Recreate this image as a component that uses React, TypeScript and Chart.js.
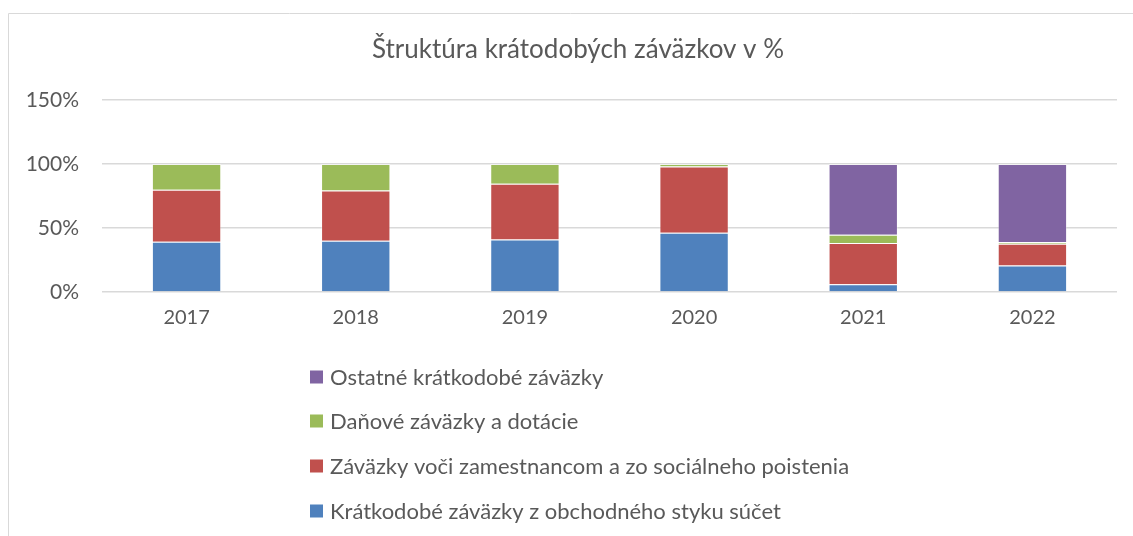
import React, { useEffect, useRef } from "react";
import { Chart, registerables } from "chart.js";

Chart.register(...registerables);

const TITLE = "Štruktúra krátodobých záväzkov v %";
const categories = ["2017", "2018", "2019", "2020", "2021", "2022"];
const tradePayables = [39.2, 40.0, 41.1, 46.3, 6.0, 20.7];
const employeePayables = [40.6, 39.3, 43.4, 51.8, 32.2, 17.0];
const taxPayables = [20.2, 20.7, 15.5, 1.9, 6.5, 1.3];
const otherPayables = [0, 0, 0, 0, 55.3, 61.0];
const seriesNames = [
  "Krátkodobé záväzky z obchodného styku súčet",
  "Záväzky voči zamestnancom a zo sociálneho poistenia",
  "Daňové záväzky a dotácie",
  "Ostatné krátkodobé záväzky",
];
const seriesColors = ["#4F81BD", "#C0504D", "#9BBB59", "#8064A2"];
const yTicks = [0, 50, 100, 150];

const FONT = "Lato, 'Open Sans', sans-serif";
const TEXT = "#595959";

const decorPlugin = {
  id: "decor",
  beforeDraw(chart: any) {
    const ctx = chart.ctx;
    ctx.save();
    ctx.strokeStyle = "#d9d9d9";
    ctx.lineWidth = 1;
    ctx.beginPath();
    ctx.moveTo(8.5, 536);
    ctx.lineTo(8.5, 13.5);
    ctx.lineTo(1133, 13.5);
    ctx.stroke();
    ctx.restore();
  },
  afterDraw(chart: any) {
    const ctx = chart.ctx;
    ctx.save();
    ctx.fillStyle = TEXT;
    ctx.font = `26px ${FONT}`;
    ctx.textAlign = "center";
    ctx.textBaseline = "middle";
    ctx.fillText(TITLE, 578, 50);
    const ds = chart.data.datasets;
    const rows = [377, 421, 466, 511];
    ctx.font = `22px ${FONT}`;
    ctx.textAlign = "left";
    for (let i = 0; i < ds.length; i++) {
      const d = ds[ds.length - 1 - i];
      const y = rows[i];
      ctx.fillStyle = d.backgroundColor;
      ctx.fillRect(310, y - 6.5, 13, 13);
      ctx.fillStyle = TEXT;
      ctx.fillText(d.label, 330, y + 1);
    }
    ctx.restore();
  },
};

export default function App() {
  const ref = useRef<HTMLCanvasElement | null>(null);
  useEffect(() => {
    if (!ref.current) return;
    const data = [tradePayables, employeePayables, taxPayables, otherPayables];
    const chart = new Chart(ref.current, {
      type: "bar",
      data: {
        labels: categories,
        datasets: data.map((vals, i) => ({
          label: seriesNames[i],
          data: vals,
          backgroundColor: seriesColors[i],
          borderColor: "rgba(255,255,255,0.35)",
          borderWidth: 1,
          categoryPercentage: 1,
          barPercentage: 0.41,
        })),
      },
      options: {
        responsive: false,
        animation: false,
        layout: { padding: { top: 100, right: 16, bottom: 0, left: 0 } },
        plugins: {
          legend: { display: false },
          title: { display: false },
          tooltip: { enabled: false },
        },
        scales: {
          x: {
            stacked: true,
            grid: { display: false, drawTicks: false },
            border: { display: false },
            ticks: { color: TEXT, font: { family: FONT, size: 20 }, padding: 14 },
            afterFit: (s: any) => {
              s.height = 244;
            },
          },
          y: {
            stacked: true,
            min: 0,
            max: 150,
            afterBuildTicks: (s: any) => {
              s.ticks = yTicks.map((v) => ({ value: v }));
            },
            grid: { color: "#d9d9d9", lineWidth: 1.5, drawTicks: false },
            border: { display: false },
            ticks: {
              color: TEXT,
              font: { family: FONT, size: 21 },
              padding: 23,
              callback: (v: any) => `${v}%`,
            },
            afterFit: (s: any) => {
              s.width = 102;
            },
          },
        },
      },
      plugins: [decorPlugin],
    });
    return () => chart.destroy();
  }, []);
  return (
    <div style={{ position: "absolute", left: 0, top: 0, width: 1133, height: 536, background: "#fff" }}>
      <canvas ref={ref} width={1133} height={536} style={{ display: "block" }} />
    </div>
  );
}
